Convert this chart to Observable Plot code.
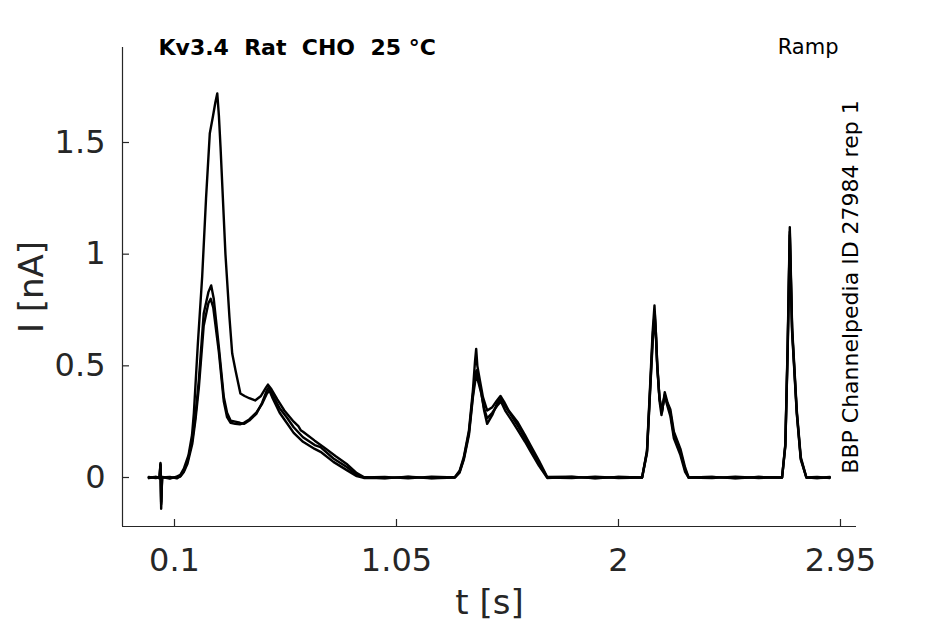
<!DOCTYPE html>
<html>
<head>
<meta charset="utf-8">
<script src="https://cdn.jsdelivr.net/npm/d3@7"></script>
<script src="https://cdn.jsdelivr.net/npm/@observablehq/plot@0.6"></script>
<style>
  html, body { margin: 0; padding: 0; background: #ffffff; }
  svg text { white-space: pre; }
</style>
</head>
<body>
<div id="chart"></div>
<script>
// ---- data (time in s, current in nA) ----
const sweep1 = [[-0.010,0.000],[0.020,0.003],[0.036,-0.004],[0.040,0.065],[0.043,-0.140],[0.047,0.002],[0.080,-0.005],[0.110,0.004],[0.125,0.012],[0.140,0.040],[0.160,0.100],[0.175,0.190],[0.183,0.290],[0.200,0.600],[0.2185,0.900],[0.235,1.250],[0.251,1.540],[0.265,1.620],[0.275,1.680],[0.283,1.720],[0.290,1.620],[0.297,1.480],[0.318,1.000],[0.335,0.720],[0.347,0.555],[0.361,0.480],[0.382,0.376],[0.400,0.365],[0.420,0.355],[0.445,0.345],[0.470,0.365],[0.490,0.400],[0.500,0.416],[0.515,0.395],[0.540,0.350],[0.570,0.300],[0.610,0.250],[0.630,0.230],[0.640,0.212],[0.650,0.205],[0.700,0.165],[0.740,0.135],[0.790,0.095],[0.840,0.058],[0.880,0.020],[0.910,0.002],[1.000,-0.004],[1.100,0.004],[1.200,-0.003],[1.300,0.002],[1.320,0.030],[1.338,0.091],[1.360,0.210],[1.377,0.390],[1.386,0.520],[1.391,0.576],[1.396,0.500],[1.407,0.434],[1.420,0.360],[1.438,0.300],[1.460,0.315],[1.480,0.345],[1.495,0.365],[1.510,0.340],[1.530,0.300],[1.567,0.250],[1.600,0.190],[1.623,0.145],[1.660,0.075],[1.695,0.002],[1.800,0.004],[1.900,-0.004],[2.000,0.003],[2.101,0.000],[2.122,0.121],[2.137,0.449],[2.146,0.650],[2.154,0.770],[2.160,0.650],[2.165,0.524],[2.175,0.360],[2.186,0.292],[2.198,0.382],[2.210,0.335],[2.222,0.305],[2.237,0.205],[2.265,0.128],[2.285,0.045],[2.300,0.000],[2.400,0.003],[2.500,-0.004],[2.600,0.002],[2.700,0.000],[2.714,0.151],[2.724,0.599],[2.733,1.121],[2.743,0.673],[2.763,0.300],[2.780,0.091],[2.804,0.000],[2.850,-0.003],[2.904,0.000]];

const sweep2 = [[-0.010,0.002],[0.020,-0.003],[0.036,0.002],[0.040,0.060],[0.043,-0.120],[0.047,0.000],[0.080,0.003],[0.110,-0.004],[0.125,0.006],[0.140,0.030],[0.155,0.070],[0.176,0.166],[0.190,0.280],[0.204,0.434],[0.225,0.734],[0.245,0.830],[0.257,0.860],[0.268,0.800],[0.290,0.583],[0.311,0.360],[0.325,0.290],[0.340,0.255],[0.360,0.250],[0.380,0.245],[0.397,0.240],[0.420,0.255],[0.450,0.285],[0.475,0.335],[0.495,0.390],[0.504,0.404],[0.520,0.370],[0.550,0.310],[0.580,0.270],[0.610,0.225],[0.650,0.180],[0.700,0.145],[0.725,0.136],[0.780,0.085],[0.839,0.046],[0.880,0.012],[0.910,0.000],[1.000,0.003],[1.100,-0.004],[1.200,0.004],[1.300,0.000],[1.320,0.025],[1.338,0.085],[1.360,0.200],[1.377,0.370],[1.388,0.470],[1.393,0.480],[1.400,0.440],[1.410,0.400],[1.425,0.300],[1.438,0.240],[1.460,0.280],[1.480,0.330],[1.497,0.355],[1.515,0.320],[1.540,0.280],[1.567,0.235],[1.600,0.175],[1.623,0.130],[1.660,0.065],[1.695,0.000],[1.800,-0.003],[1.900,0.004],[2.000,-0.002],[2.101,0.000],[2.122,0.115],[2.137,0.430],[2.147,0.640],[2.155,0.740],[2.161,0.630],[2.166,0.500],[2.176,0.340],[2.184,0.280],[2.196,0.360],[2.206,0.340],[2.222,0.290],[2.237,0.190],[2.265,0.115],[2.285,0.035],[2.300,0.000],[2.400,-0.003],[2.500,0.004],[2.600,-0.002],[2.700,0.000],[2.714,0.145],[2.724,0.580],[2.733,1.100],[2.743,0.660],[2.763,0.290],[2.780,0.085],[2.804,0.000],[2.850,0.003],[2.904,-0.002]];

const sweep3 = [[-0.010,-0.003],[0.020,0.002],[0.036,0.000],[0.040,0.055],[0.043,-0.110],[0.047,0.003],[0.080,-0.002],[0.110,0.003],[0.125,0.004],[0.140,0.025],[0.155,0.060],[0.176,0.150],[0.190,0.260],[0.204,0.400],[0.225,0.680],[0.245,0.780],[0.255,0.800],[0.266,0.760],[0.290,0.560],[0.311,0.340],[0.325,0.270],[0.340,0.245],[0.360,0.240],[0.380,0.238],[0.397,0.245],[0.420,0.260],[0.450,0.290],[0.475,0.330],[0.495,0.375],[0.506,0.390],[0.520,0.355],[0.550,0.290],[0.580,0.245],[0.610,0.200],[0.650,0.160],[0.700,0.128],[0.725,0.115],[0.780,0.070],[0.839,0.032],[0.880,0.006],[0.910,-0.002],[1.000,-0.003],[1.100,0.003],[1.200,-0.004],[1.300,0.000],[1.320,0.022],[1.338,0.080],[1.360,0.190],[1.377,0.360],[1.388,0.440],[1.394,0.450],[1.402,0.420],[1.412,0.380],[1.425,0.310],[1.438,0.265],[1.460,0.290],[1.480,0.320],[1.497,0.340],[1.515,0.300],[1.540,0.260],[1.567,0.215],[1.600,0.160],[1.623,0.118],[1.660,0.052],[1.695,-0.002],[1.800,0.003],[1.900,-0.003],[2.000,0.002],[2.101,0.000],[2.122,0.110],[2.137,0.420],[2.147,0.620],[2.155,0.720],[2.161,0.610],[2.166,0.490],[2.176,0.350],[2.186,0.300],[2.198,0.370],[2.208,0.325],[2.222,0.275],[2.237,0.175],[2.265,0.100],[2.285,0.025],[2.300,0.000],[2.400,0.003],[2.500,-0.003],[2.600,0.002],[2.700,0.000],[2.714,0.140],[2.724,0.570],[2.733,1.085],[2.743,0.650],[2.763,0.285],[2.780,0.080],[2.804,0.000],[2.850,-0.002],[2.904,0.002]];

const xTicks = [0.1, 1.05, 2, 2.95];
const xTickLabels = ["0.1", "1.05", "2", "2.95"];
const yTicks = [0, 0.5, 1, 1.5];
const yTickLabels = ["0", "0.5", "1", "1.5"];
const xDomain = [-0.1225, 3.0185];
const yDomain = [-0.2194, 1.9254];

const titleText = "Kv3.4  Rat  CHO  25 °C";
const protocolText = "Ramp";
const sideText = "BBP Channelpedia ID 27984 rep 1";
const xLabel = "t [s]";
const yLabel = "I [nA]";

// ---- layout ----
const W = 945, H = 624;
const mL = 122, mR = 89, mT = 47, mB = 98;
const plotW = W - mL - mR, plotH = H - mT - mB;
const axisColor = "#262626";

const sweeps = [sweep1, sweep2, sweep3];

const chart = Plot.plot({
  width: W,
  height: H,
  marginLeft: mL,
  marginRight: mR,
  marginTop: mT,
  marginBottom: mB,
  style: {fontFamily: "DejaVu Sans", fontSize: "32px", background: "#ffffff", color: axisColor, overflow: "visible"},
  x: {domain: xDomain, axis: null},
  y: {domain: yDomain, axis: null},
  marks: [
    // traces
    ...sweeps.map(s => Plot.line(s, {x: d => d[0], y: d => d[1], stroke: "#000000", strokeWidth: 2.4, strokeLinejoin: "round"})),
    // axis lines
    Plot.ruleX([xDomain[0]], {stroke: axisColor, strokeWidth: 1.2}),
    Plot.ruleY([yDomain[0]], {stroke: axisColor, strokeWidth: 1.2}),
    // inward ticks
    Plot.ruleX(xTicks, {x: d => d, insetTop: plotH - 7, stroke: axisColor, strokeWidth: 1.2}),
    Plot.ruleY(yTicks, {y: d => d, insetRight: plotW - 7, stroke: axisColor, strokeWidth: 1.2}),
    // tick labels
    Plot.axisX({ticks: xTicks, tickFormat: d => xTickLabels[xTicks.indexOf(d)], tickSize: 0, tickPadding: 22, label: null, fontSize: 32, fill: axisColor}),
    Plot.axisY({ticks: yTicks, tickFormat: d => yTickLabels[yTicks.indexOf(d)], tickSize: 0, tickPadding: 17, label: null, fontSize: 32, fill: axisColor}),
    // axis labels
    Plot.text([xLabel], {text: d => d, frameAnchor: "bottom", textAnchor: "middle", dy: 87, fontSize: 34, fill: axisColor}),
    Plot.text([yLabel], {text: d => d, frameAnchor: "left", textAnchor: "middle", dx: -90, rotate: -90, fontSize: 34, fill: axisColor}),
    // title and annotations
    Plot.text([titleText], {text: d => d, frameAnchor: "top-left", dx: 36, dy: -8, textAnchor: "start", fontWeight: "bold", fontSize: 22, fill: "#000000"}),
    Plot.text([protocolText], {text: d => d, frameAnchor: "top-right", dx: -18, dy: -8, textAnchor: "end", fontSize: 21, fill: "#000000"}),
    Plot.text([sideText], {text: d => d, frameAnchor: "right", textAnchor: "middle", dx: -6, rotate: -90, fontSize: 22, fill: "#000000"})
  ]
});
document.getElementById("chart").appendChild(chart);
</script>
</body>
</html>
